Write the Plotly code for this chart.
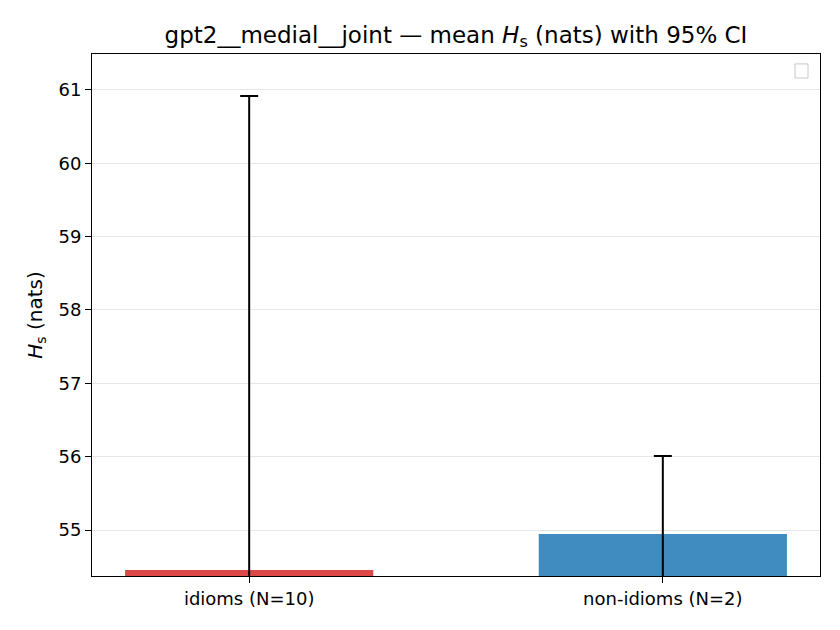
import plotly.graph_objects as go

# data
categories = ["idioms (N=10)", "non-idioms (N=2)"]
means = [54.455, 54.945]
ci_half = [6.463, 1.064]
bar_colors = ["rgba(214,39,40,0.85)", "rgba(31,119,180,0.85)"]
y_ticks = [55, 56, 57, 58, 59, 60, 61]

fig = go.Figure()

fig.add_trace(go.Bar(
    x=[0, 1], y=means,
    marker=dict(color=bar_colors, line=dict(width=0)),
    width=0.6,
    error_y=dict(type="data", array=ci_half, visible=True,
                 color="black", thickness=2, width=9),
    showlegend=False,
))

font = "DejaVu Sans, Liberation Sans, sans-serif"

# page body adds an 8px offset, so margins are shifted by that
fig.update_layout(
    width=840, height=630,
    margin=dict(l=84, r=28, t=46, b=62),
    paper_bgcolor="white", plot_bgcolor="white",
    font=dict(family=font, size=18, color="black"),
    title=dict(text="gpt2__medial__joint — mean <i>H</i><sub>s</sub> (nats) with 95% CI",
               xref="paper", x=0.5, xanchor="center", y=0.958, yanchor="middle",
               font=dict(size=23)),
    showlegend=False,
    bargap=0.4,
)

fig.update_xaxes(
    range=[-0.38, 1.38],
    tickvals=[0, 1], ticktext=categories,
    ticks="outside", ticklen=6, tickwidth=1, tickcolor="black",
    showline=True, linecolor="black", linewidth=1, mirror=True,
    showgrid=False, zeroline=False,
)
fig.update_yaxes(
    range=[54.373, 61.49],
    tickvals=y_ticks,
    ticks="outside", ticklen=6, tickwidth=1, tickcolor="black",
    showline=True, linecolor="black", linewidth=1, mirror=True,
    showgrid=True, gridcolor="#e6e6e6", gridwidth=1,
    zeroline=False,
    title=dict(text="<i>H</i><sub>s</sub> (nats)", standoff=10, font=dict(size=20)),
)

# empty legend frame in the upper right
fig.add_shape(type="rect", xref="paper", yref="paper",
              x0=0.9657, x1=0.9835, y0=0.954, y1=0.981,
              line=dict(color="#c8c8c8", width=1), fillcolor="white")

fig.write_html("out.html")
